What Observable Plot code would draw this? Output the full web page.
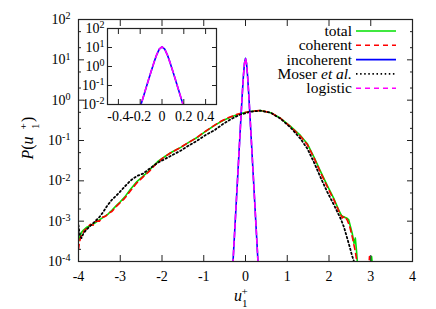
<!DOCTYPE html>
<html><head><meta charset="utf-8">
<script src="https://cdn.jsdelivr.net/npm/d3@7"></script>
<script src="https://cdn.jsdelivr.net/npm/@observablehq/plot@0.6"></script>
<style>
body{margin:0;background:#fff;}
#wrap{position:relative;width:436px;height:309px;}
#wrap svg{position:absolute;left:0;top:0;overflow:visible;}
</style></head><body><div id="wrap"></div>
<script>
// ---- legend / series ----
const seriesNames = ["total", "coherent", "incoherent", "Moser et al.", "logistic"];
const seriesColors = ["#00e000", "#ff0000", "#0000ff", "#000000", "#ff00ff"];
const seriesDash = [null, "5,4", null, "1.5,2.6", "5,4"];

// ---- ticks ----
const xTicks = [-4, -3, -2, -1, 0, 1, 2, 3, 4];
const yMajor = [1e-4, 1e-3, 1e-2, 1e-1, 1, 10, 100];
const yMinor = [2e-4, 5e-4, 2e-3, 5e-3, 2e-2, 5e-2, 0.2, 0.5, 2, 5, 20, 50];
const yLabels = ["10^-4", "10^-3", "10^-2", "10^-1", "10^0", "10^1", "10^2"];
const insetXTicks = [-0.4, -0.2, 0, 0.2, 0.4];
const insetXLabels = ["-0.4", "-0.2", "0", "0.2", "0.4"];
const insetYTicks = [1e-2, 1e-1, 1, 10, 100];
const insetYLabels = ["10^-2", "10^-1", "10^0", "10^1", "10^2"];

// ---- total (green): u, log10 P ----
const totalX = [-4.00,-3.97,-3.93,-3.88,-3.80,-3.70,-3.60,-3.50,-3.40,-3.30,-3.20,-3.10,-3.00,-2.90,-2.75,-2.60,-2.45,-2.35,-2.20,-2.10,-1.95,-1.75,-1.55,-1.35,-1.15,-0.95,-0.75,-0.55,-0.35,-0.15,0.10,0.36,0.60,0.84,1.08,1.32,1.48,1.64,1.80,1.96,2.12,2.24,2.30,2.36,2.42,2.47,2.51,2.56,2.60,2.63,2.66,2.70,2.98,3.02,3.06];
const totalLogP = [-3.50,-3.40,-3.28,-3.22,-3.15,-3.10,-3.04,-2.97,-2.90,-2.83,-2.73,-2.62,-2.52,-2.41,-2.20,-2.02,-1.88,-1.79,-1.62,-1.52,-1.41,-1.28,-1.17,-1.04,-0.92,-0.77,-0.63,-0.51,-0.42,-0.34,-0.28,-0.256,-0.31,-0.45,-0.65,-0.88,-1.08,-1.41,-1.77,-2.12,-2.45,-2.74,-2.86,-2.90,-2.92,-2.96,-3.12,-3.32,-3.55,-3.42,-3.75,-4.30,-4.30,-3.88,-4.30];

// ---- coherent (red dashed) ----
const coherentX = [-4.00,-3.98,-3.95,-3.90,-3.85,-3.80,-3.72,-3.65,-3.58,-3.50,-3.42,-3.35,-3.28,-3.20,-3.10,-3.00,-2.90,-2.75,-2.60,-2.45,-2.30,-2.15,-2.00,-1.80,-1.60,-1.40,-1.20,-1.00,-0.80,-0.60,-0.40,-0.20,0.10,0.36,0.60,0.84,1.08,1.32,1.48,1.64,1.80,1.96,2.12,2.24,2.32,2.38,2.44,2.50,2.56,2.62,2.66,2.68,2.94,2.97,3.00];
const coherentLogP = [-3.70,-3.55,-3.40,-3.30,-3.22,-3.18,-3.08,-3.10,-3.00,-3.00,-2.90,-2.88,-2.80,-2.76,-2.64,-2.54,-2.44,-2.24,-2.05,-1.90,-1.76,-1.59,-1.45,-1.31,-1.20,-1.07,-0.95,-0.80,-0.66,-0.53,-0.43,-0.35,-0.28,-0.256,-0.31,-0.45,-0.66,-0.90,-1.10,-1.43,-1.80,-2.15,-2.48,-2.76,-2.92,-2.88,-2.98,-3.15,-3.40,-3.70,-3.95,-4.30,-4.30,-3.88,-4.30];

// ---- Moser et al. (black dotted) ----
const moserX = [-4.00,-3.97,-3.93,-3.88,-3.80,-3.70,-3.60,-3.50,-3.40,-3.30,-3.20,-3.05,-2.90,-2.75,-2.60,-2.45,-2.30,-2.10,-1.95,-1.75,-1.55,-1.35,-1.15,-0.95,-0.75,-0.55,-0.35,-0.15,0.10,0.36,0.60,0.84,1.08,1.32,1.48,1.64,1.80,1.96,2.12,2.28,2.36,2.44,2.50,2.55,2.60,2.63];
const moserLogP = [-3.10,-3.35,-3.42,-3.30,-3.20,-3.10,-3.00,-2.90,-2.76,-2.60,-2.47,-2.32,-2.15,-1.99,-1.88,-1.82,-1.70,-1.55,-1.47,-1.36,-1.25,-1.12,-1.00,-0.86,-0.75,-0.60,-0.47,-0.37,-0.29,-0.26,-0.31,-0.46,-0.68,-0.96,-1.20,-1.54,-1.92,-2.28,-2.60,-2.94,-3.15,-3.44,-3.65,-3.85,-4.00,-4.30];

// ---- incoherent (blue) and logistic fit (magenta dashed) ----
const incoherentX = [-0.35,-0.30,-0.25,-0.20,-0.175,-0.15,-0.125,-0.10,-0.075,-0.05,-0.025,0,0.025,0.05,0.075,0.10,0.125,0.15,0.175,0.20,0.25,0.30,0.35];
const incoherentP = [1.1e-5,9.4e-5,8.3e-4,7.3e-3,0.0216,0.064,0.19,0.55,1.55,4.0,8.2,10.9,8.2,4.0,1.55,0.55,0.19,0.064,0.0216,7.3e-3,8.3e-4,9.4e-5,1.1e-5];
const logisticX = [-0.35,-0.30,-0.25,-0.20,-0.175,-0.15,-0.125,-0.10,-0.075,-0.05,-0.025,0,0.025,0.05,0.075,0.10,0.125,0.15,0.175,0.20,0.25,0.30,0.35];
const logisticP = [1.1e-5,9.4e-5,8.3e-4,7.3e-3,0.0216,0.064,0.19,0.55,1.55,4.0,8.2,10.9,8.2,4.0,1.55,0.55,0.19,0.064,0.0216,7.3e-3,8.3e-4,9.4e-5,1.1e-5];

const fromLog = (xs, lps) => xs.map((x, i) => ({x, p: 10 ** lps[i]}));
const fromLin = (xs, ps) => xs.map((x, i) => ({x, p: ps[i]}));
const total = fromLog(totalX, totalLogP);
const coherent = fromLog(coherentX, coherentLogP);
const moser = fromLog(moserX, moserLogP);
const incoherent = fromLin(incoherentX, incoherentP);
const logistic = fromLin(logisticX, logisticP);

const font = "'Liberation Serif', serif";
const ink = "#222";
const lookup = (vals, labels) => d => labels[vals.indexOf(d)];

function lineMarks(clip) {
  return [
    Plot.line(total, {x: "x", y: "p", stroke: seriesColors[0], strokeWidth: 1.6, clip}),
    Plot.line(coherent, {x: "x", y: "p", stroke: seriesColors[1], strokeWidth: 1.6, strokeDasharray: seriesDash[1], clip}),
    Plot.line(incoherent, {x: "x", y: "p", stroke: seriesColors[2], strokeWidth: 1.6, clip}),
    Plot.line(moser, {x: "x", y: "p", stroke: seriesColors[3], strokeWidth: 1.8, strokeDasharray: seriesDash[3], clip}),
    Plot.line(logistic, {x: "x", y: "p", stroke: seriesColors[4], strokeWidth: 1.6, strokeDasharray: seriesDash[4], clip})
  ];
}

const main = Plot.plot({
  width: 436, height: 309,
  marginLeft: 78, marginRight: 24, marginTop: 19, marginBottom: 48,
  style: {background: "transparent", fontSize: "14px", color: "black"},
  x: {domain: [-4, 4]},
  y: {type: "log", domain: [1e-4, 1e2]},
  marks: [
    ...lineMarks(true),
    Plot.frame({stroke: ink, strokeWidth: 1.2}),
    Plot.axisX(xTicks, {anchor: "bottom", tickSize: 0, tickPadding: 10, tickFormat: lookup(xTicks, xTicks.map(String)), label: null, fontSize: 14}),
    Plot.axisX(xTicks, {anchor: "bottom", tickSize: -6, tickFormat: () => "", label: null, stroke: ink}),
    Plot.axisX(xTicks, {anchor: "top", tickSize: -6, tickFormat: () => "", label: null, stroke: ink}),
    Plot.axisY(yMajor, {anchor: "left", tickSize: 0, tickPadding: 8, tickFormat: lookup(yMajor, yLabels), label: null, fontSize: 14}),
    Plot.axisY(yMajor, {anchor: "left", tickSize: -6, tickFormat: () => "", label: null, stroke: ink}),
    Plot.axisY(yMinor, {anchor: "left", tickSize: -3, tickFormat: () => "", label: null, stroke: ink}),
    Plot.axisY(yMajor, {anchor: "right", tickSize: -6, tickFormat: () => "", label: null, stroke: ink}),
    Plot.axisY(yMinor, {anchor: "right", tickSize: -3, tickFormat: () => "", label: null, stroke: ink})
  ]
});

const inset = Plot.plot({
  width: 160, height: 112,
  marginLeft: 39, marginRight: 12, marginTop: 8, marginBottom: 28,
  style: {background: "transparent", fontSize: "14px", color: "black"},
  x: {domain: [-0.5, 0.5]},
  y: {type: "log", domain: [1e-2, 1e2]},
  marks: [
    Plot.line(incoherent, {x: "x", y: "p", stroke: seriesColors[2], strokeWidth: 1.6, clip: true}),
    Plot.line(logistic, {x: "x", y: "p", stroke: seriesColors[4], strokeWidth: 1.6, strokeDasharray: seriesDash[4], clip: true}),
    Plot.frame({stroke: ink, strokeWidth: 1.2}),
    Plot.axisX(insetXTicks, {anchor: "bottom", tickSize: 0, tickPadding: 7, tickFormat: lookup(insetXTicks, insetXLabels), label: null, fontSize: 14}),
    Plot.axisX(insetXTicks, {anchor: "bottom", tickSize: -5, tickFormat: () => "", label: null, stroke: ink}),
    Plot.axisX(insetXTicks, {anchor: "top", tickSize: -5, tickFormat: () => "", label: null, stroke: ink}),
    Plot.axisY(insetYTicks, {anchor: "left", tickSize: 0, tickPadding: 3, tickFormat: lookup(insetYTicks, insetYLabels), label: null, fontSize: 14}),
    Plot.axisY(insetYTicks, {anchor: "left", tickSize: -5, tickFormat: () => "", label: null, stroke: ink}),
    Plot.axisY(insetYTicks, {anchor: "right", tickSize: -5, tickFormat: () => "", label: null, stroke: ink})
  ]
});

const wrap = document.getElementById("wrap");
wrap.appendChild(main);
inset.style.left = "68px";
inset.style.top = "20px";
wrap.appendChild(inset);

// serif font on every element
function serifAll(svg) {
  svg.setAttribute("font-family", font);
  svg.style.fontFamily = font;
  d3.select(svg).selectAll("g, text, tspan").each(function () {
    this.setAttribute("font-family", font);
    this.style.setProperty("font-family", font, "important");
  });
}

// superscript exponents in tick labels
for (const svg of [main, inset]) {
  d3.select(svg).selectAll("text").each(function () {
    const t = this.textContent;
    const m = /^10\^(-?\d+)$/.exec(t);
    if (!m) return;
    const sel = d3.select(this);
    sel.text(null);
    sel.append("tspan").text("10");
    sel.append("tspan").attr("dy", "-0.45em").attr("font-size", "0.72em").text(m[1]);
  });
}

const g = d3.select(main).append("g").attr("fill", "black").attr("font-family", font);

// label with stacked sub/superscript: pre-parts, then "+" over "1", then post text
function scriptLabel(parent, pre, post, size) {
  const lab = parent.append("g");
  const base = lab.append("text").attr("x", 0).attr("y", 0).attr("font-size", size).style("font-family", font);
  pre.forEach(([s, it]) => base.append("tspan").attr("font-style", it ? "italic" : null).text(s));
  const w = base.node().getComputedTextLength();
  const small = size * 0.69;
  const sx = w - 1.5;
  lab.append("text").attr("x", sx).attr("y", -size * 0.38).attr("font-size", small).style("font-family", font).text("+");
  lab.append("text").attr("x", sx + 0.3).attr("y", size * 0.38).attr("font-size", small).style("font-family", font).text("1");
  let total = sx + small * 0.6;
  if (post) {
    const p = lab.append("text").attr("x", total + 0.5).attr("y", 0).attr("font-size", size).style("font-family", font).text(post);
    total += 0.5 + p.node().getComputedTextLength();
  }
  return {lab, total};
}

// y-axis label P(u1+)
const yLab = scriptLabel(g, [["P", true], ["(", false], ["u", true]], ")", 16);
yLab.lab.attr("transform", `translate(33,131) rotate(-90) translate(${-yLab.total / 2},0)`);

// x-axis label u1+
const xLab = scriptLabel(g, [["u", true]], null, 16);
xLab.lab.attr("transform", "translate(238,301)");

// legend
const leg = g.append("g");
seriesNames.forEach((name, i) => {
  const y = 31 + i * 14.3;
  const tx = leg.append("text").attr("x", 352).attr("y", y).attr("dy", "0.32em").attr("text-anchor", "end").attr("font-size", 15.5);
  if (name === "Moser et al.") {
    tx.append("tspan").text("Moser ");
    tx.append("tspan").attr("font-style", "italic").text("et al.");
  } else tx.text(name);
  leg.append("line").attr("x1", 356).attr("x2", 396).attr("y1", y).attr("y2", y)
    .attr("stroke", seriesColors[i]).attr("stroke-width", i === 3 ? 1.8 : 1.6)
    .attr("stroke-dasharray", seriesDash[i]);
});

serifAll(main);
serifAll(inset);
</script></body></html>
